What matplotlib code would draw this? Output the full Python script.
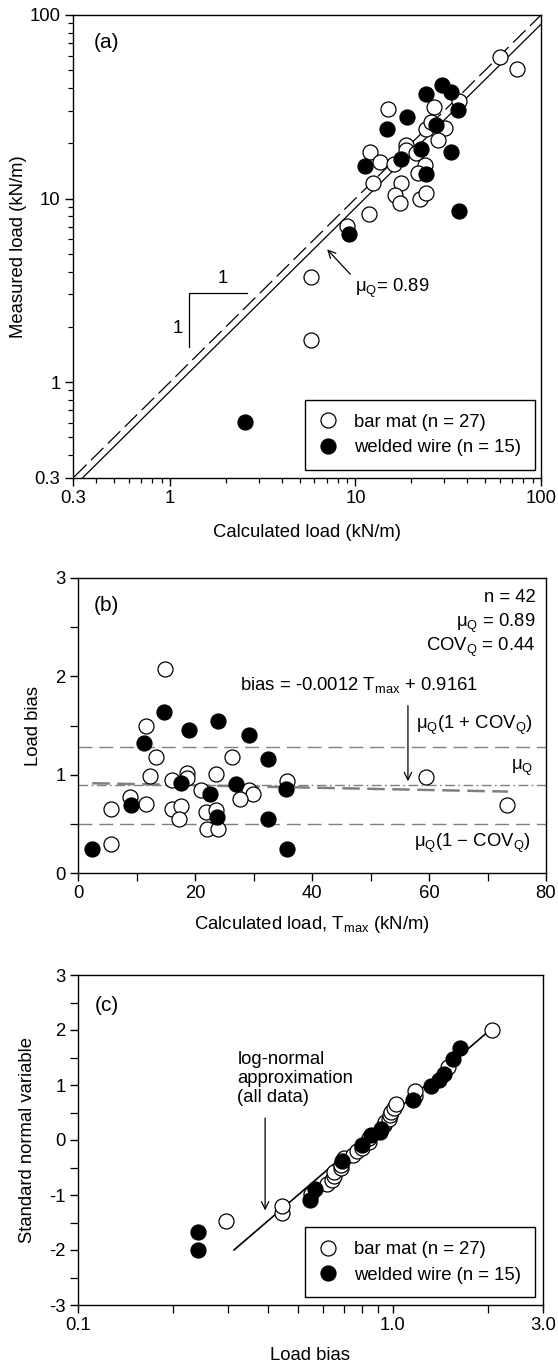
import numpy as np
import matplotlib
matplotlib.use('Agg')
import matplotlib.pyplot as plt
from matplotlib.ticker import FixedLocator, FixedFormatter, NullFormatter

plt.rcParams['font.family'] = ['Liberation Sans', 'DejaVu Sans']
plt.rcParams['mathtext.fontset'] = 'custom'
plt.rcParams['mathtext.rm'] = 'Liberation Sans'
plt.rcParams['mathtext.it'] = 'Liberation Sans'
plt.rcParams['mathtext.default'] = 'regular'
plt.rcParams['axes.unicode_minus'] = False
plt.rcParams['font.size'] = 13.3

# --- (a) calculated vs measured load (kN/m) ---
bar_calc = [60, 73.8, 15.0, 26.5, 36.3, 23.9, 30.5, 27.9, 18.8, 18.8, 21.1, 11.9, 13.5, 16.1,
            23.7, 21.8, 12.4, 17.7, 16.3, 17.3, 22.2, 24.1, 11.8, 9.05, 5.75, 5.75, 25.5]
bar_meas = [59, 50.6, 30.9, 31.5, 34.0, 24.0, 24.3, 20.9, 19.5, 18.3, 17.7, 17.9, 15.8, 15.5,
            15.2, 13.8, 12.2, 12.2, 10.5, 9.5, 10.0, 10.7, 8.27, 7.06, 3.73, 1.69, 26.0]
wire_calc = [29.4, 32.7, 24.1, 35.5, 19.0, 14.7, 27.1, 22.6, 32.7, 17.7, 11.3, 23.9, 36.0, 9.24, 2.53]
wire_meas = [41.4, 38.0, 37.3, 30.5, 27.8, 24.0, 25.1, 18.5, 17.9, 16.5, 15.0, 13.6, 8.6, 6.44, 0.605]

# --- (b) load bias vs Tmax ---
bar_tmax = [14.9, 11.7, 13.3, 26.4, 12.3, 18.7, 18.6, 16.0, 23.6, 35.8, 21.0, 29.2, 29.9, 27.7,
            8.9, 11.7, 5.64, 16.0, 17.6, 17.3, 21.9, 23.6, 22.1, 24.0, 5.64, 59.5, 73.3]
bar_bias = [2.07, 1.495, 1.18, 1.18, 0.99, 1.02, 0.97, 0.946, 1.01, 0.94, 0.84, 0.84, 0.80, 0.75,
            0.77, 0.70, 0.65, 0.65, 0.685, 0.55, 0.617, 0.64, 0.444, 0.444, 0.295, 0.98, 0.687]
wire_tmax = [14.75, 11.2, 18.9, 23.9, 29.2, 32.5, 17.55, 27.0, 35.6, 22.6, 9.06, 23.8, 32.5, 2.45, 35.7]
wire_bias = [1.64, 1.325, 1.455, 1.55, 1.40, 1.16, 0.92, 0.91, 0.855, 0.80, 0.69, 0.566, 0.546, 0.24, 0.24]

mu_q = 0.89
cov_q = 0.44
reg_x = [2.45, 73.5]
reg_y = [0.913, 0.828]

# --- (c) standard normal variable vs load bias ---
bar_c_bias = [0.295, 0.444, 0.444, 0.55, 0.617, 0.64, 0.65, 0.65, 0.685, 0.687, 0.70, 0.75, 0.77, 0.80,
              0.84, 0.84, 0.94, 0.946, 0.97, 0.98, 0.99, 1.01, 1.02, 1.18, 1.18, 1.495, 2.07]
bar_c_z = [-1.477, -1.323, -1.194, -0.984, -0.809, -0.731, -0.657, -0.586, -0.518, -0.452, -0.327,
           -0.266, -0.206, -0.146, -0.029, 0.029, 0.266, 0.327, 0.389, 0.452, 0.518, 0.586, 0.657,
           0.809, 0.893, 1.323, 1.991]
wire_c_bias = [0.24, 0.24, 0.546, 0.566, 0.69, 0.80, 0.855, 0.91, 0.92, 1.16, 1.325, 1.40, 1.455, 1.55, 1.64]
wire_c_z = [-1.991, -1.680, -1.083, -0.893, -0.389, -0.087, 0.087, 0.146, 0.206, 0.731, 0.984,
            1.083, 1.194, 1.477, 1.680]
fit_x = [0.313, 1.97]
fit_z = [-2.0, 1.93]

W, H = 558, 1368
fig = plt.figure(figsize=(W / 100, H / 100), dpi=100)


def rect(l, r, t, b):
    return [l / W, 1 - b / H, (r - l) / W, (b - t) / H]


def style(ax):
    for s in ['top', 'right', 'bottom', 'left']:
        ax.spines[s].set_linewidth(1.0)
    ax.tick_params(which='major', direction='out', length=6, width=1.0, pad=3, labelsize=13.3)
    ax.tick_params(which='minor', direction='out', length=3.5, width=0.9)
    ax.tick_params(top=False, right=False, which='both')


mk = dict(ls='none', marker='o', ms=10.8, mec='black', mew=0.9)
leg_kw = dict(loc='lower right', frameon=True, fancybox=False, edgecolor='black', framealpha=1,
              borderaxespad=0, handletextpad=0.9, handlelength=1.0, borderpad=0.75,
              labelspacing=0.45, fontsize=13.3)

# ---------- (a) ----------
ax = fig.add_axes(rect(73, 541, 15, 478))
ax.set_xscale('log')
ax.set_yscale('log')
ax.set_xlim(0.3, 100)
ax.set_ylim(0.3, 100)
line = np.array([0.2, 120])
ax.plot(line, line, color='black', lw=0.9, dashes=(14, 5))
ax.plot(line, mu_q * line, color='black', lw=0.9)
h1, = ax.plot(bar_calc, bar_meas, mfc='white', label='bar mat (n = 27)', **mk)
h2, = ax.plot(wire_calc, wire_meas, mfc='black', label='welded wire (n = 15)', **mk)
ax.plot([1.27, 1.27, 2.6], [1.55, 3.04, 3.04], color='black', lw=0.9)
ax.text(1.92, 3.67, '1', ha='center', va='center')
ax.text(1.10, 1.96, '1', ha='center', va='center')
ax.annotate('', xy=(6.87, 5.42), xytext=(9.6, 3.77),
            arrowprops=dict(arrowstyle='->', color='black', lw=0.9))
ax.text(9.9, 3.24, 'μ$_Q$= 0.89', ha='left', va='center')
ax.text(0.045, 0.94, '(a)', transform=ax.transAxes, fontsize=15, ha='left', va='center')
ticks = [0.3, 1, 10, 100]
minor = [0.4, 0.5, 0.6, 0.7, 0.8, 0.9] + list(range(2, 10)) + list(range(20, 100, 10))
for axis in (ax.xaxis, ax.yaxis):
    axis.set_major_locator(FixedLocator(ticks))
    axis.set_major_formatter(FixedFormatter(['0.3', '1', '10', '100']))
    axis.set_minor_locator(FixedLocator(minor))
    axis.set_minor_formatter(NullFormatter())
ax.set_xlabel('Calculated load (kN/m)', labelpad=12)
ax.set_ylabel('Measured load (kN/m)', labelpad=2)
ax.legend(handles=[h1, h2], bbox_to_anchor=(0.987, 0.017), **leg_kw)
style(ax)

# ---------- (b) ----------
ax = fig.add_axes(rect(78, 546, 578, 873))
ax.set_xlim(0, 80)
ax.set_ylim(0, 3)
grey = '#7f7f7f'
ax.axhline(mu_q * (1 + cov_q), color=grey, lw=1.0, dashes=(10, 5))
ax.axhline(mu_q * (1 - cov_q), color=grey, lw=1.0, dashes=(10, 5))
ax.axhline(mu_q, color=grey, lw=1.0, dashes=(7, 2.5, 1.2, 2.5))
ax.plot(reg_x, reg_y, color=grey, lw=1.8, dashes=(7, 3))
ax.plot(bar_tmax, bar_bias, mfc='white', **mk)
ax.plot(wire_tmax, wire_bias, mfc='black', **mk)
ax.text(78.2, 2.80, 'n = 42', ha='right', va='center')
ax.text(78.2, 2.54, 'μ$_Q$ = 0.89', ha='right', va='center')
ax.text(78.2, 2.29, 'COV$_Q$ = 0.44', ha='right', va='center')
ax.text(48.0, 1.91, 'bias = -0.0012 T$_{max}$ + 0.9161', ha='center', va='center')
ax.annotate('', xy=(56.4, 0.905), xytext=(56.4, 1.73),
            arrowprops=dict(arrowstyle='->', color='black', lw=0.9))
ax.text(77.8, 1.505, 'μ$_Q$(1 + COV$_Q$)', ha='right', va='center')
ax.text(77.8, 1.07, 'μ$_Q$', ha='right', va='center')
ax.text(77.4, 0.30, 'μ$_Q$(1 − COV$_Q$)', ha='right', va='center')
ax.text(0.034, 0.908, '(b)', transform=ax.transAxes, fontsize=15, ha='left', va='center')
ax.xaxis.set_major_locator(FixedLocator([0, 20, 40, 60, 80]))
ax.xaxis.set_minor_locator(FixedLocator([10, 30, 50, 70]))
ax.yaxis.set_major_locator(FixedLocator([0, 1, 2, 3]))
ax.yaxis.set_minor_locator(FixedLocator([0.5, 1.5, 2.5]))
ax.set_xlabel('Calculated load, T$_{max}$ (kN/m)', labelpad=8)
ax.set_ylabel('Load bias', labelpad=9.5)
style(ax)
ax.tick_params(which='minor', length=6)

# ---------- (c) ----------
ax = fig.add_axes(rect(78, 543, 975, 1305))
ax.set_xscale('log')
ax.set_xlim(0.1, 3.0)
ax.set_ylim(-3, 3)
ax.plot(fit_x, fit_z, color='black', lw=1.2)
h1, = ax.plot(bar_c_bias, bar_c_z, mfc='white', label='bar mat (n = 27)', **mk)
h2, = ax.plot(wire_c_bias, wire_c_z, mfc='black', label='welded wire (n = 15)', **mk)
ax.annotate('', xy=(0.393, -1.33), xytext=(0.393, 0.45),
            arrowprops=dict(arrowstyle='->', color='black', lw=0.9))
ax.text(0.321, 1.62, 'log-normal\napproximation\n(all data)', ha='left', va='top', linespacing=1.15)
ax.text(0.037, 0.909, '(c)', transform=ax.transAxes, fontsize=15, ha='left', va='center')
ax.xaxis.set_major_locator(FixedLocator([0.1, 1.0, 3.0]))
ax.xaxis.set_major_formatter(FixedFormatter(['0.1', '1.0', '3.0']))
ax.xaxis.set_minor_locator(FixedLocator([0.2, 0.3, 0.4, 0.5, 0.6, 0.7, 0.8, 0.9, 2.0]))
ax.xaxis.set_minor_formatter(NullFormatter())
ax.yaxis.set_major_locator(FixedLocator([-3, -2, -1, 0, 1, 2, 3]))
ax.yaxis.set_minor_locator(FixedLocator([-2.5, -1.5, -0.5, 0.5, 1.5, 2.5]))
ax.set_xlabel('Load bias', labelpad=9)
ax.set_ylabel('Standard normal variable', labelpad=9)
ax.legend(handles=[h1, h2], bbox_to_anchor=(0.983, 0.023), **leg_kw)
style(ax)
ax.tick_params(which='minor', length=6)

fig.savefig('out.png', dpi=100)
